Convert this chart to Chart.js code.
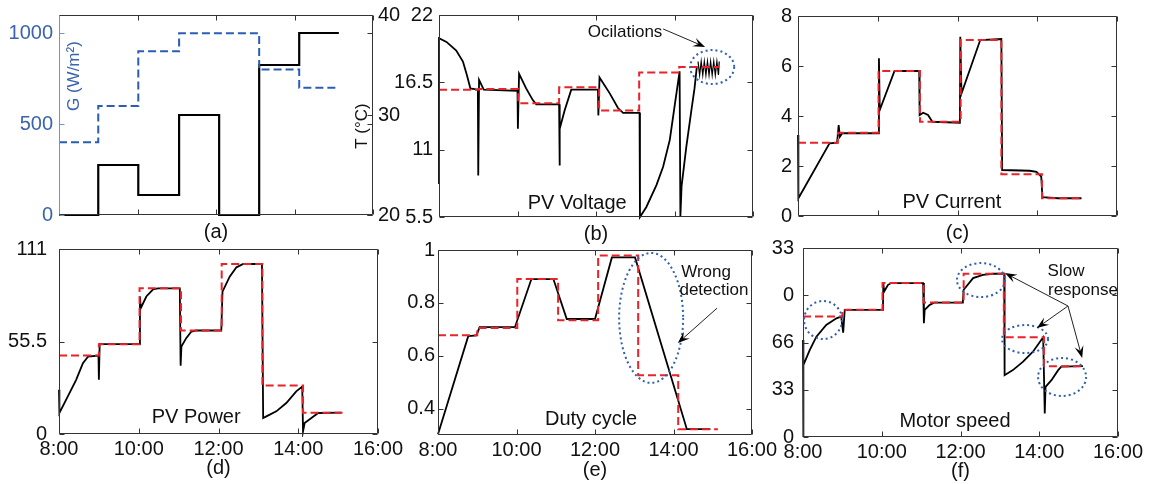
<!DOCTYPE html>
<html>
<head>
<meta charset="utf-8">
<script src="https://cdn.jsdelivr.net/npm/chart.js@4.4.1/dist/chart.umd.min.js"></script>
<style>
  body { margin: 0; background: #fff; width: 1151px; height: 484px; overflow: hidden; position: relative; }
  canvas { position: absolute; left: 0; top: 0; }
</style>
</head>
<body>
<canvas id="pa" width="1151" height="484"></canvas>
<canvas id="pb" width="1151" height="484"></canvas>
<canvas id="pc" width="1151" height="484"></canvas>
<canvas id="pd" width="1151" height="484"></canvas>
<canvas id="pe" width="1151" height="484"></canvas>
<canvas id="pf" width="1151" height="484"></canvas>
<script>
// hours at which the operating conditions change (last value = end of run)
var stepTimes = [8, 9, 10.02, 11.06, 12.08, 13.1, 14.12, 15.13];
var irradiance = [400, 600, 900, 1000, 1000, 800, 700, 700];
var temperature = [20, 25, 22, 30, 20, 35, 38.2, 38.2];
var refVoltage = [15.9, 15.95, 14.8, 16.1, 14.2, 17.3, 17.75, 17.75];
var refCurrent = [2.93, 3.33, 5.8, 3.77, 7.04, 1.67, 0.71, 0.71];
var refPower = [47.1, 53.9, 87.4, 62.1, 102, 29.1, 12.8, 12.8];
var refDuty = [0.677, 0.705, 0.89, 0.734, 0.979, 0.526, 0.322, 0.322];
var refSpeed = [84.1, 88.8, 107.5, 93.9, 114, 69.6, 49.5, 49.5];

// measured responses
var voltT = [8, 8, 8.19, 8.44, 8.61, 8.71, 8.8, 8.99, 9.0, 9.02, 9.14, 10.0, 10.01, 10.04, 10.22, 10.39, 10.48,
  11.06, 11.07, 11.08, 11.2, 11.37, 12.05, 12.06, 12.09, 12.35, 12.56, 12.69, 13.11, 13.12, 13.28, 13.54, 13.71,
  13.88, 14.0, 14.13, 14.15, 14.18, 14.3, 14.43, 14.51, 14.57];
var volt = [8.2, 20.1, 19.8, 19.1, 18.2, 17.1, 16.0, 15.9, 8.9, 16.7, 15.9, 15.8, 12.7, 17.2, 16.0, 15.05, 14.7,
  14.7, 9.7, 12.7, 14.2, 15.9, 15.9, 13.8, 16.9, 15.6, 14.4, 14.0, 14.0, 5.5, 6.3, 8.1, 9.6,
  11.8, 14.5, 17.4, 5.5, 8.0, 11.2, 14.2, 16.0, 17.8];
var voltOscT = [14.6, 14.64, 14.68, 14.72, 14.76, 14.8, 14.84, 14.88, 14.92, 14.96, 15.0, 15.04, 15.08, 15.12, 15.14];
var voltOsc = [18.2, 17.1, 18.2, 17.1, 18.2, 17.1, 18.2, 17.1, 18.2, 17.1, 18.2, 17.1, 18.2, 17.1, 18.2];

var currentT = [8, 8.01, 8.79, 8.98, 9.02, 9.05, 9.11, 10.01, 10.03, 10.05, 10.42, 11.04, 11.05, 11.14, 11.26, 11.37,
  12.06, 12.07, 12.1, 12.57, 13.1, 13.12, 13.81, 13.98, 14.1, 14.13, 14.52, 15.11];
var current = [3.24, 0.71, 2.91, 2.93, 3.64, 3.17, 3.31, 3.31, 6.31, 4.24, 5.8, 5.8, 4.04, 4.13, 4.04, 3.77,
  3.73, 7.17, 4.9, 7.04, 7.08, 1.84, 1.81, 1.77, 1.57, 0.75, 0.71, 0.71];

var powerT = [8, 8.01, 8.18, 8.43, 8.6, 8.73, 8.99, 9.0, 9.02, 10.02, 10.03, 10.05, 10.19, 10.36, 10.48,
  11.03, 11.05, 11.07, 11.19, 11.32, 11.44, 12.07, 12.1, 12.28, 12.45, 12.62, 13.09, 13.12, 13.2, 13.45, 13.7,
  13.95, 14.1, 14.12, 14.16, 14.33, 14.5, 15.08];
var power = [26.6, 12.6, 20.6, 32.5, 42.5, 46.5, 47.1, 32.5, 53.9, 53.9, 82.5, 75.5, 82.5, 86.8, 87.4,
  87.4, 40.9, 52.5, 57.5, 61.5, 62.1, 62.1, 85.4, 94.4, 100, 102, 102, 9.6, 10.6, 13.6, 18.6,
  25.6, 28.5, 1.6, 6.6, 9.6, 12.6, 12.8];

var dutyT = [8, 8.77, 8.98, 9.06, 9.96, 10.38, 10.94, 11.28, 12.0, 12.43, 13.02, 14.34, 14.94];
var duty = [0.303, 0.674, 0.677, 0.708, 0.708, 0.89, 0.89, 0.739, 0.739, 0.972, 0.972, 0.322, 0.322];

var speedT = [8, 8, 8.02, 8.17, 8.34, 8.59, 8.85, 8.97, 9.02, 9.06, 10.03, 10.04, 10.06, 10.16, 10.24,
  11.05, 11.07, 11.09, 11.22, 11.34, 12.06, 12.08, 12.32, 12.57, 12.83, 13.11, 13.12, 13.33, 13.59, 13.84,
  14.05, 14.1, 14.14, 14.16, 14.31, 14.48, 14.56, 15.11];
var speed = [67.8, 0, 50.2, 60.7, 70.1, 78.3, 82.9, 84.1, 72.9, 88.8, 88.8, 107.5, 101.6, 106.3, 107.5,
  107.5, 79.4, 88.8, 92.3, 93.9, 93.9, 102.8, 111, 113.3, 114, 114, 43.2, 46.7, 52.6, 59.6,
  67.8, 69.6, 16.4, 35, 39.7, 46.7, 49.1, 49.5];

// axis ticks
var hourTicks = [8, 10, 12, 14, 16];
var hourLabels = ['8:00', '10:00', '12:00', '14:00', '16:00'];
var gTicks = [0, 500, 1000];
var tTicks = [20, 30, 40];
var vTicks = [5.5, 11, 16.5, 22];
var iTicks = [0, 2, 4, 6, 8];
var pTicks = [0, 55.5, 111];
var dTicks = [0.4, 0.6, 0.8, 1];
var sTicks = [0, 33, 66, 99, 132];
var sLabels = ['0', '33', '66', '0', '33'];

var W = 1151, H = 484, YW = 60, XH = 30;
var RED = '#e8232a', BLUE = '#2b5db4', DOT = '#2f5fae', GTEXT = '#3a64b0';

Chart.defaults.font.family = "'Liberation Sans', Arial, sans-serif";
Chart.defaults.font.size = 20;
Chart.defaults.color = '#111';

function xy(xs, ys) {
    return xs.map(function (x, i) { return { x: x, y: ys[i] }; });
}

function fixedTicks(values) {
    return function (s) { s.ticks = values.map(function (v) { return { value: v }; }); };
}

function noPad(s) {
    s.paddingLeft = 0; s.paddingRight = 0; s.paddingTop = 0; s.paddingBottom = 0;
}

function xScale(show) {
    return {
        type: 'linear', min: 8, max: 16,
        afterBuildTicks: fixedTicks(hourTicks),
        afterFit: function (s) { s.height = XH; noPad(s); },
        grid: { display: false, drawTicks: false }, border: { display: false },
        ticks: { display: show, padding: 3, maxRotation: 0, autoSkip: false,
            callback: function (v, i) { return hourLabels[i]; } }
    };
}

function yScale(min, max, values, labels, pad, opt) {
    opt = opt || {};
    var w = opt.width || YW;
    return {
        type: 'linear', min: min, max: max, position: opt.position || 'left',
        afterBuildTicks: fixedTicks(values),
        afterFit: function (sc) { sc.width = w; noPad(sc); },
        grid: { display: false, drawTicks: false }, border: { display: false },
        ticks: { padding: pad, autoSkip: false, color: opt.color || '#111',
            callback: function (v, i) { return labels ? labels[i] : String(v); } }
    };
}

function box(L, T, R, B, rightW) {
    return { left: L - YW, top: T, right: W - R - (rightW || 0), bottom: H - B - XH };
}

function refLine(values) {
    return { data: xy(stepTimes, values), stepped: true, borderColor: RED, borderWidth: 2,
        borderDash: [8, 4], pointRadius: 0 };
}

function measLine(ts, vs, width) {
    return { data: xy(ts, vs), borderColor: '#000', borderWidth: width || 1.8, pointRadius: 0, tension: 0, clip: 3 };
}

function drawArrow(c, x1, y1, x2, y2) {
    var a = Math.atan2(y2 - y1, x2 - x1), len = 12, w = 4.5;
    var ca = Math.cos(a), sa = Math.sin(a);
    c.beginPath();
    c.moveTo(x1, y1);
    c.lineTo(x2 - ca * len * 0.6, y2 - sa * len * 0.6);
    c.stroke();
    c.beginPath();
    c.moveTo(x2, y2);
    c.lineTo(x2 - len * ca + w * sa, y2 - len * sa - w * ca);
    c.lineTo(x2 - len * 0.6 * ca, y2 - len * 0.6 * sa);
    c.lineTo(x2 - len * ca - w * sa, y2 - len * sa + w * ca);
    c.closePath();
    c.fill();
}

// frame, inward ticks, panel letter and annotations
var panelPlugin = {
    id: 'panel',
    afterDatasetsDraw: function (chart, args, o) {
        var c = chart.ctx, a = chart.chartArea;
        var sx = chart.scales.x, sy = chart.scales.y, s2 = chart.scales.y2;
        var l = Math.round(a.left) + 0.5, r = Math.round(a.right) - 0.5;
        var t = Math.round(a.top) + 0.5, b = Math.round(a.bottom) - 0.5;
        c.save();
        c.lineWidth = 1;
        c.strokeStyle = '#333';
        c.beginPath();
        c.moveTo(l, t); c.lineTo(r, t); c.lineTo(r, b); c.lineTo(l, b);
        sx.ticks.forEach(function (tk) {
            var px = Math.round(sx.getPixelForValue(tk.value)) + 0.5;
            c.moveTo(px, b); c.lineTo(px, b - 5);
            c.moveTo(px, t); c.lineTo(px, t + 5);
        });
        sy.ticks.forEach(function (tk) {
            var py = Math.round(sy.getPixelForValue(tk.value)) + 0.5;
            c.moveTo(r, py); c.lineTo(r - 5, py);
            if (!s2) { c.moveTo(l, py); c.lineTo(l + 5, py); }
        });
        if (s2) {
            s2.ticks.forEach(function (tk) {
                var py = Math.round(s2.getPixelForValue(tk.value)) + 0.5;
                c.moveTo(r, py); c.lineTo(r - 5, py);
            });
        }
        c.stroke();
        c.strokeStyle = o.leftColor || '#333';
        c.beginPath();
        c.moveTo(l, t); c.lineTo(l, b);
        if (s2) {
            sy.ticks.forEach(function (tk) {
                var py = Math.round(sy.getPixelForValue(tk.value)) + 0.5;
                c.moveTo(l, py); c.lineTo(l + 5, py);
            });
        }
        c.stroke();

        c.textAlign = 'center';
        c.textBaseline = 'middle';
        c.fillStyle = '#111';
        c.font = "20px 'Liberation Sans', Arial, sans-serif";
        c.fillText(o.label, (a.left + a.right) / 2, a.bottom + o.labelDy);

        (o.ellipses || []).forEach(function (e) {
            c.save();
            c.strokeStyle = DOT;
            c.lineWidth = 2;
            c.setLineDash([2, 3]);
            c.beginPath();
            c.ellipse(sx.getPixelForValue(e.x), sy.getPixelForValue(e.y), e.rx, e.ry, 0, 0, Math.PI * 2);
            c.stroke();
            c.restore();
        });
        c.strokeStyle = '#222';
        c.fillStyle = '#000';
        c.lineWidth = 1;
        (o.arrows || []).forEach(function (ar) {
            drawArrow(c, sx.getPixelForValue(ar.x1), sy.getPixelForValue(ar.y1),
                sx.getPixelForValue(ar.x2), sy.getPixelForValue(ar.y2));
        });
        (o.texts || []).forEach(function (tx) {
            c.save();
            c.fillStyle = tx.color || '#111';
            c.font = (tx.size || 20) + "px 'Liberation Sans', Arial, sans-serif";
            c.translate(sx.getPixelForValue(tx.x), sy.getPixelForValue(tx.y));
            if (tx.rot) c.rotate(-Math.PI / 2);
            c.fillText(tx.text, 0, 0);
            c.restore();
        });
        c.restore();
    }
};

function panel(id, datasets, scales, padding, deco) {
    return new Chart(document.getElementById(id), {
        type: 'line',
        data: { datasets: datasets },
        options: {
            responsive: false, animation: false, events: [],
            layout: { autoPadding: false, padding: padding },
            plugins: { legend: { display: false }, tooltip: { enabled: false }, panel: deco },
            scales: scales
        },
        plugins: [panelPlugin]
    });
}

// (a) irradiance and temperature profile
panel('pa', [
    { data: xy(stepTimes, irradiance), stepped: true, borderColor: BLUE, borderWidth: 2,
      borderDash: [8, 4], pointRadius: 0, yAxisID: 'y' },
    { data: xy(stepTimes, temperature), stepped: true, borderColor: '#000', borderWidth: 2.2,
      pointRadius: 0, yAxisID: 'y2', clip: 4 }
], {
    x: xScale(false),
    y: yScale(0, 1100, gTicks, null, 6, { color: GTEXT }),
    y2: yScale(20, 40, tTicks, null, 5, { position: 'right', width: 40 })
}, box(59, 15, 373, 215, 40), {
    label: '(a)', labelDy: 17, leftColor: '#6f95cf',
    texts: [
        { text: 'G (W/m\u00b2)', x: 8.38, y: 764, size: 17, color: GTEXT, rot: true },
        { text: 'T (\u00b0C)', x: 15.72, y: 489, size: 17, rot: true }
    ]
});

// (b) PV voltage
panel('pb', [
    refLine(refVoltage),
    measLine(voltT, volt),
    measLine(voltOscT, voltOsc, 1.2)
], {
    x: xScale(false),
    y: yScale(5.5, 22, vTicks, null, 6)
}, box(439, 15, 753, 217), {
    label: '(b)', labelDy: 17,
    texts: [
        { text: 'PV Voltage', x: 11.52, y: 6.64 },
        { text: 'Ocilations', x: 12.74, y: 20.6, size: 17 }
    ],
    ellipses: [{ x: 14.96, y: 17.75, rx: 22, ry: 17 }],
    arrows: [{ x1: 13.71, y1: 20.86, x2: 14.78, y2: 19.39 }]
});

// (c) PV current
panel('pc', [
    refLine(refCurrent),
    measLine(currentT, current)
], {
    x: xScale(false),
    y: yScale(0, 8, iTicks, null, 6)
}, box(798, 16, 1117, 216), {
    label: '(c)', labelDy: 17,
    texts: [{ text: 'PV Current', x: 11.86, y: 0.56 }]
});

// (d) PV power
panel('pd', [
    refLine(refPower),
    measLine(powerT, power)
], {
    x: xScale(true),
    y: yScale(0, 111, pTicks, null, 12)
}, box(59, 249, 378, 434), {
    label: '(d)', labelDy: 34,
    texts: [{ text: 'PV Power', x: 11.44, y: 10.2 }]
});

// (e) duty cycle
panel('pe', [
    refLine(refDuty),
    measLine(dutyT, duty)
], {
    x: xScale(true),
    y: yScale(0.3, 1, dTicks, null, 3)
}, box(438, 250, 752, 435), {
    label: '(e)', labelDy: 35,
    texts: [
        { text: 'Duty cycle', x: 11.9, y: 0.36 },
        { text: 'Wrong', x: 14.83, y: 0.917, size: 17 },
        { text: 'detection', x: 15.03, y: 0.849, size: 17 }
    ],
    ellipses: [{ x: 13.43, y: 0.743, rx: 32, ry: 65 }],
    arrows: [{ x1: 15.11, y1: 0.78, x2: 14.11, y2: 0.648 }]
});

// (f) motor speed
panel('pf', [
    refLine(refSpeed),
    measLine(speedT, speed)
], {
    x: xScale(true),
    y: yScale(0, 132, sTicks, sLabels, 9)
}, box(803, 248, 1118, 437), {
    label: '(f)', labelDy: 34,
    texts: [
        { text: 'Motor speed', x: 11.86, y: 10.5 },
        { text: 'Slow', x: 14.68, y: 115.9, size: 17 },
        { text: 'response', x: 15.11, y: 102.7, size: 17 }
    ],
    ellipses: [
        { x: 8.51, y: 81.7, rx: 19, ry: 19 },
        { x: 12.52, y: 109.6, rx: 24, ry: 17 },
        { x: 13.64, y: 68.4, rx: 23, ry: 14 },
        { x: 14.58, y: 41.9, rx: 24, ry: 19 }
    ],
    arrows: [
        { x1: 14.73, y1: 91.5, x2: 13.13, y2: 114.5 },
        { x1: 14.73, y1: 91.5, x2: 13.94, y2: 76.1 },
        { x1: 14.73, y1: 91.5, x2: 15.09, y2: 55.2 }
    ]
});
</script>
</body>
</html>
